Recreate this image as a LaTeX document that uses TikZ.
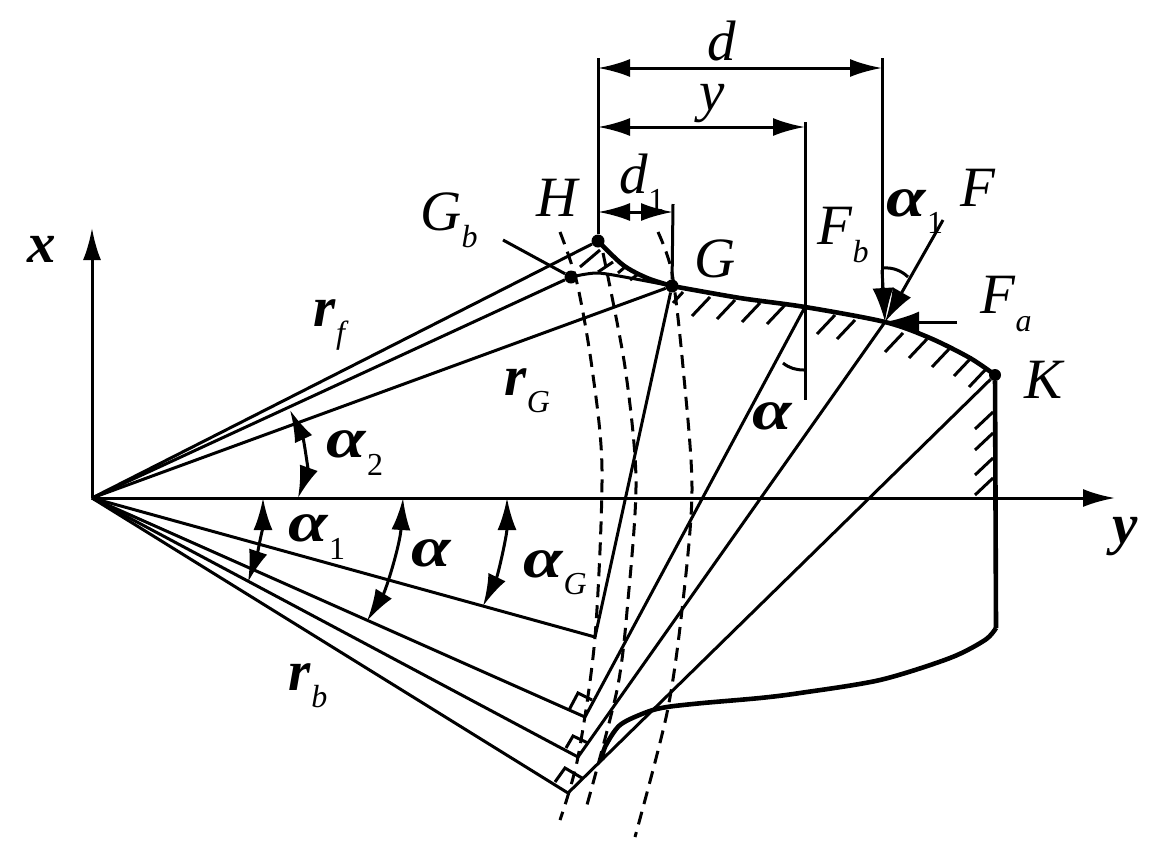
\documentclass[tikz,border=0pt]{standalone}
\usepackage{fontspec}
\setmainfont{Liberation Serif}
\usetikzlibrary{arrows.meta}

\newcommand{\bigfont}{\fontsize{57}{57}\selectfont}
\newcommand{\subfont}{\fontsize{32}{32}\selectfont}
\newcommand{\balpha}{\scalebox{1.25}[1]{\textbf{\textit{α}}}}
\newcommand{\lab}[2]{\textit{#1}\raisebox{-0.3em}{\subfont\textit{#2}}}
\newcommand{\blab}[2]{\textbf{\textit{#1}}\raisebox{-0.3em}{\subfont\textit{#2}}}
\newcommand{\nlab}[2]{\textit{#1}\raisebox{-0.3em}{\subfont #2}}
\newcommand{\alab}[1]{\balpha\raisebox{-0.3em}{\subfont #1}}

\tikzset{
    lbl/.style={inner sep=0pt, font=\bigfont},
    fine/.style={line width=3pt},
    bold/.style={line width=4.6pt},
    hatch/.style={line width=3pt},
    circdash/.style={line width=3pt, dash pattern=on 13pt off 8pt},
    bigtip/.style={-{Latex[length=34pt,width=21pt]}},
    dimline/.style={line width=3pt, {Latex[length=32pt,width=18pt]}-{Latex[length=32pt,width=18pt]}},
    angarrow/.style={line width=3pt, {Latex[length=32pt,width=19pt]}-{Latex[length=32pt,width=19pt]}},
    dot/.style={circle, fill=black, inner sep=0pt, minimum size=13pt}
}

\begin{document}
\begin{tikzpicture}[x=1pt, y=-1pt]
    \useasboundingbox (0,0) rectangle (1169,855);

    % points
    \coordinate (O) at (92,498);
    \coordinate (xtop) at (92,228);
    \coordinate (yend) at (1115,498);
    \coordinate (Q0) at (595,637);
    \coordinate (Q1) at (585,717);
    \coordinate (Q2) at (578,757);
    \coordinate (Q3) at (568,793);
    \coordinate (Fbp) at (805,307);
    \coordinate (Fp) at (885,322);
    \coordinate (Kbot) at (996,628);
    \node[dot] (A) at (598,241) {};
    \node[dot] (Gb) at (571,277) {};
    \node[dot] (Gp) at (672,286) {};
    \node[dot, minimum size=12pt] (Kp) at (995,375) {};

    % axis
    \draw[fine, -{Latex[length=32pt,width=18pt]}] (O) -- (xtop);
    \draw[fine, -{Latex[length=32pt,width=18pt]}] (O) -- (yend);

    % radial lines
    \foreach \p in {A,Gb,Gp,Q0,Q1,Q2,Q3}
        \draw[fine] (O) -- (\p);

    % tangent lines
    \draw[fine] (Q0) -- (Gp);
    \draw[fine] (Q1) -- (Fbp);
    \draw[fine] (Q2) -- (Fp);
    \draw[fine] (Q3) -- (Kp);

    % right angle marks
    \draw[fine] (569,710) -- (578,693) -- (592,700);
    \draw[fine] (566,748) -- (573,736) -- (588,743);
    \draw[fine] (555,782) -- (565,768) -- (582,778);

    % dashed circles
    \draw[circdash] plot[smooth] coordinates {(560,232) (577,283) (592,368) (602,470) (595,637) (578,757) (560,820)};
    \draw[circdash] plot[smooth] coordinates {(603,253) (625,367) (636,480) (628,600) (617,690) (585,812)};
    \draw[circdash] plot[smooth] coordinates {(658,232) (672,273) (683,367) (692,490) (682,610) (667,713) (635,837)};

    % tooth profile
    \draw[bold] plot[smooth] coordinates {(A) (623,265) (647,278) (Gp)};
    \draw[fine] plot[smooth] coordinates {(Gb) (597,273) (630,278) (Gp)};
    \draw[bold] plot[smooth] coordinates {(Gp) (740,298) (Fbp) (Fp) (930,338) (970,358) (Kp)};
    \draw[bold] (Kp) -- (Kbot);
    \draw[bold] plot[smooth] coordinates {(Kbot) (985,640) (950,658) (880,680) (800,693) (760,698) (703,703) (667,707) (647,712) (620,725) (605,747) (602,760)};

    % hatching
    \foreach \x/\y in {835/315, 855/320, 903/333, 927/339, 950/348, 972/357, 987/368, 710/297, 735/300, 760/303, 785/305}
        \draw[hatch] (\x,\y) -- ++(-18,19);
    \foreach \y in {412,433,458,478}
        \draw[hatch] (993,\y) -- ++(-18,17);
    \draw[hatch] (600,250) -- (580,267);
    \draw[hatch] (613,262) -- (598,272);
    \draw[hatch] (625,267) -- (618,273);
    \draw[hatch] (637,275) -- (630,280);
    \draw[hatch] (683,292) -- (673,303);

    % dimensions
    \coordinate (dL) at (598,68);
    \coordinate (dR) at (882,68);
    \coordinate (yL) at (598,127);
    \coordinate (yR) at (805,127);
    \coordinate (dA) at (598,212);
    \coordinate (dB) at (673,212);
    \draw[fine] (A) -- (598,58);
    \draw[fine] (673,204) -- (Gp);
    \draw[fine] (805,122) -- (805,400);
    \draw[fine] (882,58) -- (882,290);
    \draw[dimline] (dL) -- (dR);
    \draw[dimline] (yL) -- (yR);
    \draw[dimline] (dA) -- (dB);

    % forces
    \coordinate (Fstart) at (943,220);
    \coordinate (Fastart) at (957,322);
    \coordinate (Gbstart) at (503,240);
    \draw[fine, bigtip] (882,270) -- (Fp);
    \draw[fine, bigtip] (Fstart) -- (Fp);
    \draw[fine, bigtip] (Fastart) -- (Fp);
    \draw[fine] (Gbstart) -- (Gb);

    % small angle marks
    \draw[fine] (882,268) .. controls (893,267) and (902,271) .. (908,277);
    \draw[fine] (783,363) .. controls (789,368) and (796,370) .. (804,370);

    % angle arrows
    \draw[angarrow] (290,410) .. controls (304,440) and (308,470) .. (298,498);
    \draw[angarrow] (263,498) .. controls (263,525) and (257,555) .. (248,582);
    \draw[angarrow] (403,498) .. controls (400,545) and (386,590) .. (367,621);
    \draw[angarrow] (507,498) .. controls (507,535) and (498,575) .. (483,606);

    % labels
    \node[lbl] (labx) at (42,249) {\textbf{\textit{x}}};
    \node[lbl] (laby) at (1125,537) {\textbf{\textit{y}}};
    \node[lbl] (labH) at (558,198) {\textit{H}};
    \node[lbl] (labGb) at (449,220) {\lab{G}{b}};
    \node[lbl] (labd1) at (642,182) {\nlab{d}{1}};
    \node[lbl] (labG) at (715,259) {\textit{G}};
    \node[lbl] (labd) at (722,41) {\textit{d}};
    \node[lbl] (laby2) at (712,104) {\textit{y}};
    \node[lbl] (labFb) at (843,235) {\lab{F}{b}};
    \node[lbl] (labaone) at (915,212) {\alab{1}};
    \node[lbl] (labF) at (978,188) {\textit{F}};
    \node[lbl] (labFa) at (1006,304) {\lab{F}{a}};
    \node[lbl] (labK) at (1045,380) {\textit{K}};
    \node[lbl] (labrf) at (331,325) {\blab{r}{f}};
    \node[lbl] (labrG) at (527,391) {\blab{r}{G}};
    \node[lbl] (labrb) at (308,686) {\blab{r}{b}};
    \node[lbl] (labatwo) at (355,453) {\alab{2}};
    \node[lbl] (labaonel) at (317,537) {\alab{1}};
    \node[lbl] (laba) at (432,553) {\balpha};
    \node[lbl] (labaG) at (555,573) {\balpha\raisebox{-0.3em}{\subfont\textit{G}}};
    \node[lbl] (labar) at (773,416) {\balpha};
\end{tikzpicture}
\end{document}
